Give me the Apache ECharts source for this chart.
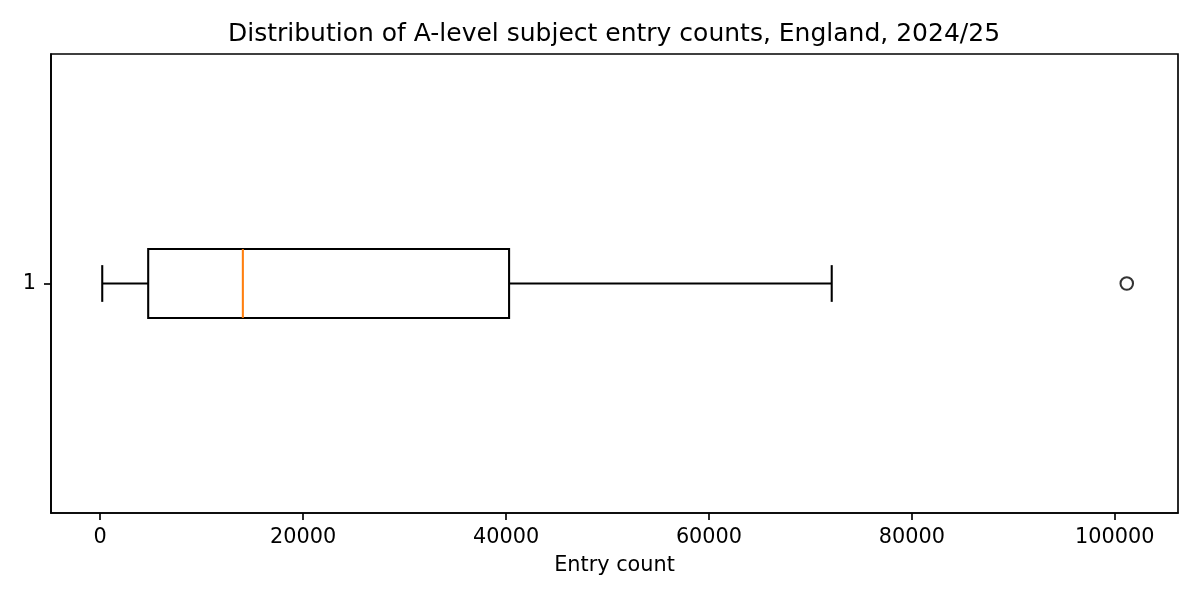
<!DOCTYPE html>
<html>
<head>
<meta charset="utf-8">
<script src="https://cdn.jsdelivr.net/npm/echarts@6/dist/echarts.min.js"></script>
<style>
html,body{margin:0;padding:0;background:#fff;}
#c{width:1200px;height:600px;}
</style>
</head>
<body>
<div id="c"></div>
<script>
// Data
const categories = [1];
const whiskerLow = [200];
const q1 = [4730];
const median = [14060];
const q3 = [40300];
const whiskerHigh = [72100];
const outliers = [[101180, 1]];
const xTicks = [0, 20000, 40000, 60000, 80000, 100000];
const yTicks = [1];

const boxData = categories.map((c, i) => [c, whiskerLow[i], q1[i], median[i], q3[i], whiskerHigh[i]]);

const FONT = 'DejaVu Sans';
const chart = echarts.init(document.getElementById('c'), null, {renderer: 'canvas'});

const BOX_HALF = 0.075;
const CAP_HALF = 0.04;
const LW = 2.08;
const SPINE = 1.67;

function renderBox(params, api) {
  const pos = api.value(0);
  const lo = api.value(1), a = api.value(2), m = api.value(3), b = api.value(4), hi = api.value(5);
  const yC = api.coord([lo, pos])[1];
  const yT = api.coord([a, pos + BOX_HALF])[1];
  const yB = api.coord([a, pos - BOX_HALF])[1];
  const xLo = api.coord([lo, pos])[0];
  const xQ1 = api.coord([a, pos])[0];
  const xM = api.coord([m, pos])[0];
  const xQ3 = api.coord([b, pos])[0];
  const xHi = api.coord([hi, pos])[0];
  const capT = api.coord([lo, pos + CAP_HALF])[1];
  const capB = api.coord([lo, pos - CAP_HALF])[1];
  const ls = {stroke: '#000', lineWidth: LW, fill: null};
  return {
    type: 'group',
    children: [
      {type: 'line', shape: {x1: xLo, y1: yC, x2: xQ1, y2: yC}, style: ls},
      {type: 'line', shape: {x1: xQ3, y1: yC, x2: xHi, y2: yC}, style: ls},
      {type: 'line', shape: {x1: xLo, y1: capT, x2: xLo, y2: capB}, style: ls},
      {type: 'line', shape: {x1: xHi, y1: capT, x2: xHi, y2: capB}, style: ls},
      {type: 'rect', shape: {x: xQ1, y: yT, width: xQ3 - xQ1, height: yB - yT}, style: {stroke: '#000', lineWidth: LW, fill: 'none'}},
      {type: 'line', shape: {x1: xM, y1: yT, x2: xM, y2: yB}, style: {stroke: '#ff7f0e', lineWidth: LW}}
    ]
  };
}

const option = {
  backgroundColor: '#fff',
  animation: false,
  title: {
    text: 'Distribution of A-level subject entry counts, England, 2024/25',
    left: 609,
    textAlign: 'center',
    top: 17,
    textStyle: {fontFamily: FONT, fontSize: 25, fontWeight: 'normal', color: '#000'}
  },
  grid: {
    left: 51, right: 22, top: 54, bottom: 87,
    show: true, borderColor: '#000', borderWidth: SPINE, backgroundColor: 'transparent'
  },
  xAxis: {
    type: 'value',
    min: -4850,
    max: 106230,
    name: 'Entry count',
    nameLocation: 'middle',
    nameGap: 42,
    nameTextStyle: {fontFamily: FONT, fontSize: 20.8, color: '#000'},
    splitLine: {show: false},
    axisLine: {show: true, onZero: false, lineStyle: {color: '#000', width: SPINE}},
    axisTick: {show: true, inside: false, length: 7, customValues: xTicks, lineStyle: {color: '#000', width: SPINE}},
    axisLabel: {customValues: xTicks, margin: 14, fontFamily: FONT, fontSize: 20.8, color: '#000',
      formatter: v => String(v)}
  },
  yAxis: {
    type: 'value',
    min: 0.5,
    max: 1.5,
    splitLine: {show: false},
    axisLine: {show: true, onZero: false, lineStyle: {color: '#000', width: SPINE}},
    axisTick: {show: true, inside: false, length: 7, customValues: yTicks, lineStyle: {color: '#000', width: SPINE}},
    axisLabel: {customValues: yTicks, margin: 15, fontFamily: FONT, fontSize: 20.8, color: '#000',
      formatter: v => String(v)}
  },
  series: [
    {
      type: 'custom',
      renderItem: renderBox,
      encode: {x: [1, 2, 3, 4, 5], y: 0},
      data: boxData,
      clip: false
    },
    {
      type: 'scatter',
      data: outliers,
      symbol: 'circle',
      symbolSize: 12.5,
      itemStyle: {color: 'rgba(0,0,0,0)', borderColor: '#000', borderWidth: 2.08},
      emphasis: {disabled: true}
    }
  ]
};
chart.setOption(option);
</script>
</body>
</html>
